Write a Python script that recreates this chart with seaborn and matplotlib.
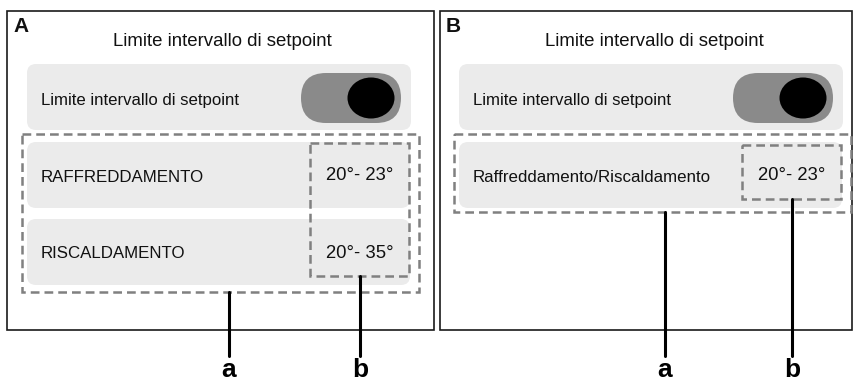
import matplotlib
matplotlib.use('Agg')
import matplotlib.pyplot as plt
import seaborn as sns
from matplotlib.patches import FancyBboxPatch, Rectangle, Ellipse

sns.set_theme(style='white')
plt.rcParams['font.family'] = ['Liberation Sans', 'DejaVu Sans']

# -------------------------
# Content of the two panels
# -------------------------
panel_letters = ['A', 'B']
panel_titles = ['Limite intervallo di setpoint', 'Limite intervallo di setpoint']
toggle_labels = ['Limite intervallo di setpoint', 'Limite intervallo di setpoint']
rows_A = ['RAFFREDDAMENTO', 'RISCALDAMENTO']
ranges_A = ['20°- 23°', '20°- 35°']
rows_B = ['Raffreddamento/Riscaldamento']
ranges_B = ['20°- 23°']
callouts = ['a', 'b']

ROW_GREY = '#ebebeb'
DASH_GREY = '#808080'
TXT = '#111111'
dash = (0, (3.5, 2.0))

fig = plt.figure(figsize=(8.56, 3.83), dpi=100)
ax = fig.add_axes([0, 0, 1, 1])
ax.set_xlim(0, 856)
ax.set_ylim(383, 0)
ax.axis('off')


def rbox(x0, y0, x1, y1, r, color, z=1):
    ax.add_patch(FancyBboxPatch((x0, y0), x1 - x0, y1 - y0,
                                boxstyle=f'round,pad=0,rounding_size={r}',
                                fc=color, ec='none', zorder=z))


def dbox(x0, y0, x1, y1):
    ax.add_patch(Rectangle((x0, y0), x1 - x0, y1 - y0, fill=False,
                           ec=DASH_GREY, lw=1.8, ls=dash, zorder=4))


def draw_panel(dx, frame_x0, frame_x1, letter, title, toggle, rows, ranges,
               outer_bottom, inner_top, inner_bottom, a_x):
    # frame
    ax.add_patch(Rectangle((frame_x0, 11), frame_x1 - frame_x0, 319, fill=False,
                           ec='#1a1a1a', lw=1.2, zorder=2))
    ax.text(frame_x0 + 6, 27, letter, fontsize=15, fontweight='bold',
            ha='left', va='center', zorder=5, color=TXT)
    ax.text(dx + 222, 41, title, fontsize=13.4, ha='center', va='center',
            zorder=5, color=TXT)

    # toggle row
    rbox(dx + 27, 64, dx + 411, 130, 9, ROW_GREY)
    ax.text(dx + 41, 100, toggle, fontsize=12.1, ha='left', va='center',
            zorder=5, color=TXT)
    rbox(dx + 301, 73, dx + 401, 123, 25, '#8a8a8a', z=2)
    ax.add_patch(Ellipse((dx + 371, 98), 47, 41, fc='black', ec='none', zorder=3))

    # setting rows
    row_tops = [142, 219]
    for i, (lab, rng) in enumerate(zip(rows, ranges)):
        t = row_tops[i]
        rbox(dx + 27, t, dx + 410, t + 66, 9, ROW_GREY)
        ax.text(dx + 41, t + 35, lab, fontsize=12.2, ha='left', va='center',
                zorder=5, color=TXT)
        ax.text(dx + 360, t + 34, rng, fontsize=13.3, ha='center', va='center',
                zorder=5, color=TXT)

    # dashed callout boxes
    dbox(dx + 22, 134, dx + 419, outer_bottom)
    dbox(dx + 310, inner_top, dx + 409, inner_bottom)

    # leader lines and labels
    ax.plot([a_x, a_x], [outer_bottom, 356], color='black', lw=2.2, zorder=4)
    ax.plot([dx + 360, dx + 360], [inner_bottom, 356], color='black', lw=2.2, zorder=4)
    ax.text(a_x, 377, callouts[0], fontsize=19, fontweight='heavy',
            ha='center', va='baseline', color='black')
    ax.text(dx + 360, 377, callouts[1], fontsize=19, fontweight='heavy',
            ha='center', va='baseline', color='black')


draw_panel(0, 7, 434, panel_letters[0], panel_titles[0], toggle_labels[0],
           rows_A, ranges_A, 292, 143, 276, 229)
draw_panel(432, 440, 852, panel_letters[1], panel_titles[1], toggle_labels[1],
           rows_B, ranges_B, 212, 145, 199, 665)

fig.savefig('out.png', dpi=100, facecolor='white')
